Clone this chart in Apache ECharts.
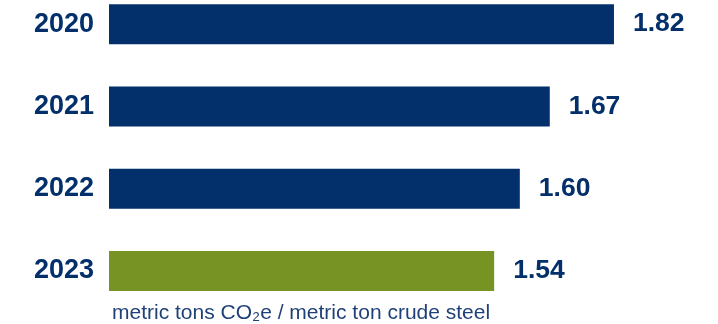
<!DOCTYPE html>
<html>
<head>
<meta charset="utf-8">
<style>
html,body{margin:0;padding:0;background:#fff;}
#chart{width:718px;height:324px;}
</style>
<script src="https://cdn.jsdelivr.net/npm/echarts@6/dist/echarts.min.js"></script>
</head>
<body>
<div id="chart"></div>
<script>
const years = ['2020', '2021', '2022', '2023'];
const intensity = [1.82, 1.67, 1.60, 1.54];
const unitNote = 'metric tons CO₂e / metric ton crude steel';

const NAVY = '#03306b';
const GREEN = '#779324';

const chart = echarts.init(document.getElementById('chart'), null, {renderer: 'canvas'});
chart.setOption({
  animation: false,
  grid: {left: 109, right: 27, top: -17, bottom: 12, containLabel: false, outerBoundsMode: 'none'},
  xAxis: {
    type: 'value', min: 0.64, max: 2.0,
    show: false
  },
  yAxis: {
    type: 'category', data: years, inverse: true,
    axisLine: {show: false}, axisTick: {show: false}, splitLine: {show: false},
    axisLabel: {
      margin: 15, color: NAVY, fontSize: 27, fontWeight: 'bold',
      fontFamily: 'Liberation Sans, Arial, sans-serif'
    }
  },
  series: [{
    type: 'bar',
    data: intensity,
    barWidth: 40,
    itemStyle: {
      color: p => (p.dataIndex === intensity.length - 1 ? GREEN : NAVY)
    },
    label: {
      show: true, position: 'right', distance: 19,
      color: NAVY, fontSize: 26.5, fontWeight: 'bold',
      fontFamily: 'Liberation Sans, Arial, sans-serif',
      formatter: p => p.value.toFixed(2)
    }
  }],
  graphic: [{
    type: 'text',
    left: 112, top: 303,
    style: {
      text: unitNote,
      fill: '#1f4177', fontSize: 21,
      fontFamily: 'Liberation Sans, Arial, sans-serif'
    }
  }]
});
</script>
</body>
</html>
